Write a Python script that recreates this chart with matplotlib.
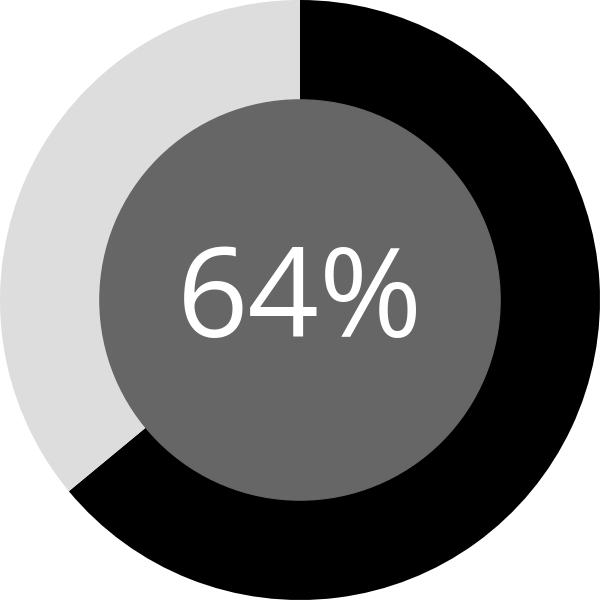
import matplotlib
matplotlib.use("Agg")
import matplotlib.pyplot as plt
from matplotlib.patches import Circle

labels = ["done", "remaining"]
values = [64, 36]
colors = ["#000000", "#dddddd"]
center_label = "64%"

fig = plt.figure(figsize=(6, 6), dpi=100)
ax = fig.add_axes([0, 0, 1, 1])
ax.pie(values, colors=colors, startangle=90, counterclock=False, radius=1.0,
       wedgeprops=dict(linewidth=0))
ax.add_patch(Circle((0, 0), 0.667, color="#666666", zorder=3))
ax.text(0, -0.015, center_label, ha="center", va="center", color="white",
        fontsize=90, family="Open Sans", zorder=4)
ax.set_xlim(-1, 1)
ax.set_ylim(-1, 1)
ax.set_aspect("equal")
ax.axis("off")
fig.savefig("out.png", dpi=100, facecolor="white")
